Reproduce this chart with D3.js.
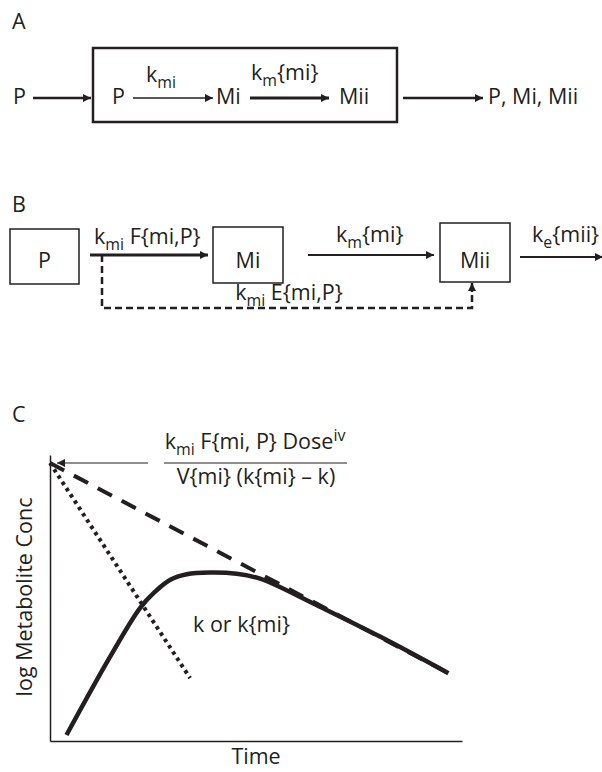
<!DOCTYPE html>
<html>
<head>
<meta charset="utf-8">
<script src="https://cdn.jsdelivr.net/npm/d3@7"></script>
<style>
  body { margin: 0; background: #fff; }
  text { font-family: "Open Sans", sans-serif; fill: #231f20; }
</style>
</head>
<body>
<div id="chart"></div>
<script>
// panel C curves: time vs log conc, arbitrary units 0-100
var dashedTime = [0, 96.7];
var dashedConc = [97.2, 23.7];
var dottedTime = [0, 34.0];
var dottedConc = [97.2, 22.0];
var solidTime = [4.0, 14.6, 21.8, 25.5, 29.1, 33.2, 38.8, 45.3, 50.2, 54.2, 63.9, 80.1, 96.7];
var solidConc = [2.1, 29.5, 46.4, 52.2, 56.3, 58.3, 58.9, 58.5, 57.1, 54.9, 48.1, 36.5, 23.7];

// text (_<..> subscript, ^<..> superscript)
var panelNames = ["A", "B", "C"];
var nodesA = ["P", "P", "Mi", "Mii", "P, Mi, Mii"];
var ratesA = ["k_<mi>", "k_<m>{mi}"];
var nodesB = ["P", "Mi", "Mii"];
var ratesB = ["k_<mi> F{mi,P}", "k_<m>{mi}", "k_<e>{mii}", "k_<mi> E{mi,P}"];
var fracText = ["k_<mi> F{mi, P} Dose^<iv>", "V{mi} (k{mi} \u2013 k)"];
var slopeText = "k or k{mi}";
var xTitle = "Time";
var yTitle = "log Metabolite Conc";

var W = 602, H = 772, FS = 21.5, ink = "#231f20";

var svg = d3.select("#chart").append("svg")
    .attr("width", W)
    .attr("height", H);

svg.append("defs").append("marker")
    .attr("id", "head")
    .attr("viewBox", "0 0 10 10")
    .attr("refX", 10).attr("refY", 5)
    .attr("markerUnits", "userSpaceOnUse")
    .attr("markerWidth", 9).attr("markerHeight", 8)
    .attr("orient", "auto")
  .append("path")
    .attr("d", "M0,0L10,5L0,10z")
    .attr("fill", ink);

function rich(g, x, y, str, size, anchor) {
  var t = g.append("text")
      .attr("x", x).attr("y", y)
      .attr("font-size", size)
      .attr("text-anchor", anchor || "start");
  var parts = str.split(/(_<[^>]*>|\^<[^>]*>)/).filter(function(s) { return s.length; });
  var shift = 0;
  parts.forEach(function(p) {
    var dy = 0, small = false, txt = p;
    if (p.indexOf("_<") === 0) { dy = size * 0.28; small = true; txt = p.slice(2, -1); }
    else if (p.indexOf("^<") === 0) { dy = -size * 0.36; small = true; txt = p.slice(2, -1); }
    var ts = t.append("tspan").attr("dy", dy - shift).text(txt);
    if (small) ts.attr("font-size", size * 0.74);
    shift = dy;
  });
  return t;
}

function arrow(g, x1, y1, x2, y2, w, dash) {
  g.append("line")
      .attr("x1", x1).attr("y1", y1).attr("x2", x2).attr("y2", y2)
      .attr("stroke", ink).attr("stroke-width", w)
      .attr("stroke-dasharray", dash || null)
      .attr("marker-end", "url(#head)");
}

// panel letters
var letterY = [29, 212, 422];
panelNames.forEach(function(n, i) {
  svg.append("text").attr("x", 12).attr("y", letterY[i]).attr("font-size", FS).text(n);
});

// ---------- panel A
var a = svg.append("g");
a.append("rect").attr("x", 93).attr("y", 48).attr("width", 304).attr("height", 74)
    .attr("fill", "none").attr("stroke", ink).attr("stroke-width", 2.5);
var aX = [13, 112, 216, 339, 488];
nodesA.forEach(function(n, i) { rich(a, aX[i], 104, n, FS); });
arrow(a, 33, 98, 91, 98, 2.5);
arrow(a, 133, 98, 213, 98, 1.3);
arrow(a, 250, 98, 329, 98, 3.2);
arrow(a, 403, 98, 483, 98, 2.5);
rich(a, 146, 82, ratesA[0], FS);
rich(a, 251, 80, ratesA[1], FS);

// ---------- panel B
var b = svg.append("g");
var boxB = [[10, 229, 69, 55], [213, 227, 70, 56], [440, 223, 70, 59]];
nodesB.forEach(function(n, i) {
  var r = boxB[i];
  b.append("rect").attr("x", r[0]).attr("y", r[1]).attr("width", r[2]).attr("height", r[3])
      .attr("fill", "none").attr("stroke", ink).attr("stroke-width", 1.5);
  rich(b, r[0] + r[2] / 2, 268, n, FS, "middle");
});
arrow(b, 90, 255, 208, 255, 3.2);
arrow(b, 308, 255, 434, 255, 2);
arrow(b, 520, 257, 603, 257, 2);
rich(b, 94, 244, ratesB[0], FS);
rich(b, 336, 242, ratesB[1], FS);
rich(b, 532, 242, ratesB[2], FS);
b.append("path").attr("d", "M102,255V308H472V288")
    .attr("fill", "none").attr("stroke", ink).attr("stroke-width", 2.5)
    .attr("stroke-dasharray", "7,4");
arrow(b, 472, 292, 472, 283, 2.5);
rich(b, 289, 300, ratesB[3], FS, "middle");

// ---------- panel C
var x = d3.scaleLinear().domain([0, 100]).range([50, 462]);
var y = d3.scaleLinear().domain([0, 100]).range([741, 455]);
var c = svg.append("g");

c.append("g").attr("transform", "translate(0,741)")
    .call(d3.axisBottom(x).ticks(0).tickSizeOuter(0))
    .select(".domain").attr("stroke", ink).attr("stroke-width", 1.5);
c.append("g").attr("transform", "translate(50,0)")
    .call(d3.axisLeft(y).ticks(0).tickSizeOuter(0))
    .select(".domain").attr("stroke", ink).attr("stroke-width", 1.5);

function series(ts, cs) { return ts.map(function(t, i) { return [t, cs[i]]; }); }
var straight = d3.line().x(function(d) { return x(d[0]); }).y(function(d) { return y(d[1]); });
var smooth = d3.line().curve(d3.curveCatmullRom.alpha(0.5))
    .x(function(d) { return x(d[0]); }).y(function(d) { return y(d[1]); });

c.append("path").attr("d", straight(series(dottedTime, dottedConc)))
    .attr("fill", "none").attr("stroke", ink).attr("stroke-width", 4)
    .attr("stroke-dasharray", "3.5,4");
c.append("path").attr("d", straight(series(dashedTime, dashedConc)))
    .attr("fill", "none").attr("stroke", ink).attr("stroke-width", 4)
    .attr("stroke-dasharray", "16,11");
c.append("path").attr("d", smooth(series(solidTime, solidConc)))
    .attr("fill", "none").attr("stroke", ink).attr("stroke-width", 4.5);

// intercept pointer and its formula
arrow(c, 148, 463, 57, 463, 1.2);
c.append("line").attr("x1", 164).attr("x2", 347).attr("y1", 463).attr("y2", 463)
    .attr("stroke", ink).attr("stroke-width", 1);
rich(c, 255, 449, fracText[0], FS, "middle");
rich(c, 256, 484, fracText[1], FS, "middle");
rich(c, 193, 632, slopeText, FS);
rich(c, 256, 764, xTitle, FS, "middle");
c.append("text").attr("transform", "translate(32,597) rotate(-90)")
    .attr("text-anchor", "middle").attr("font-size", FS).text(yTitle);
</script>
</body>
</html>
